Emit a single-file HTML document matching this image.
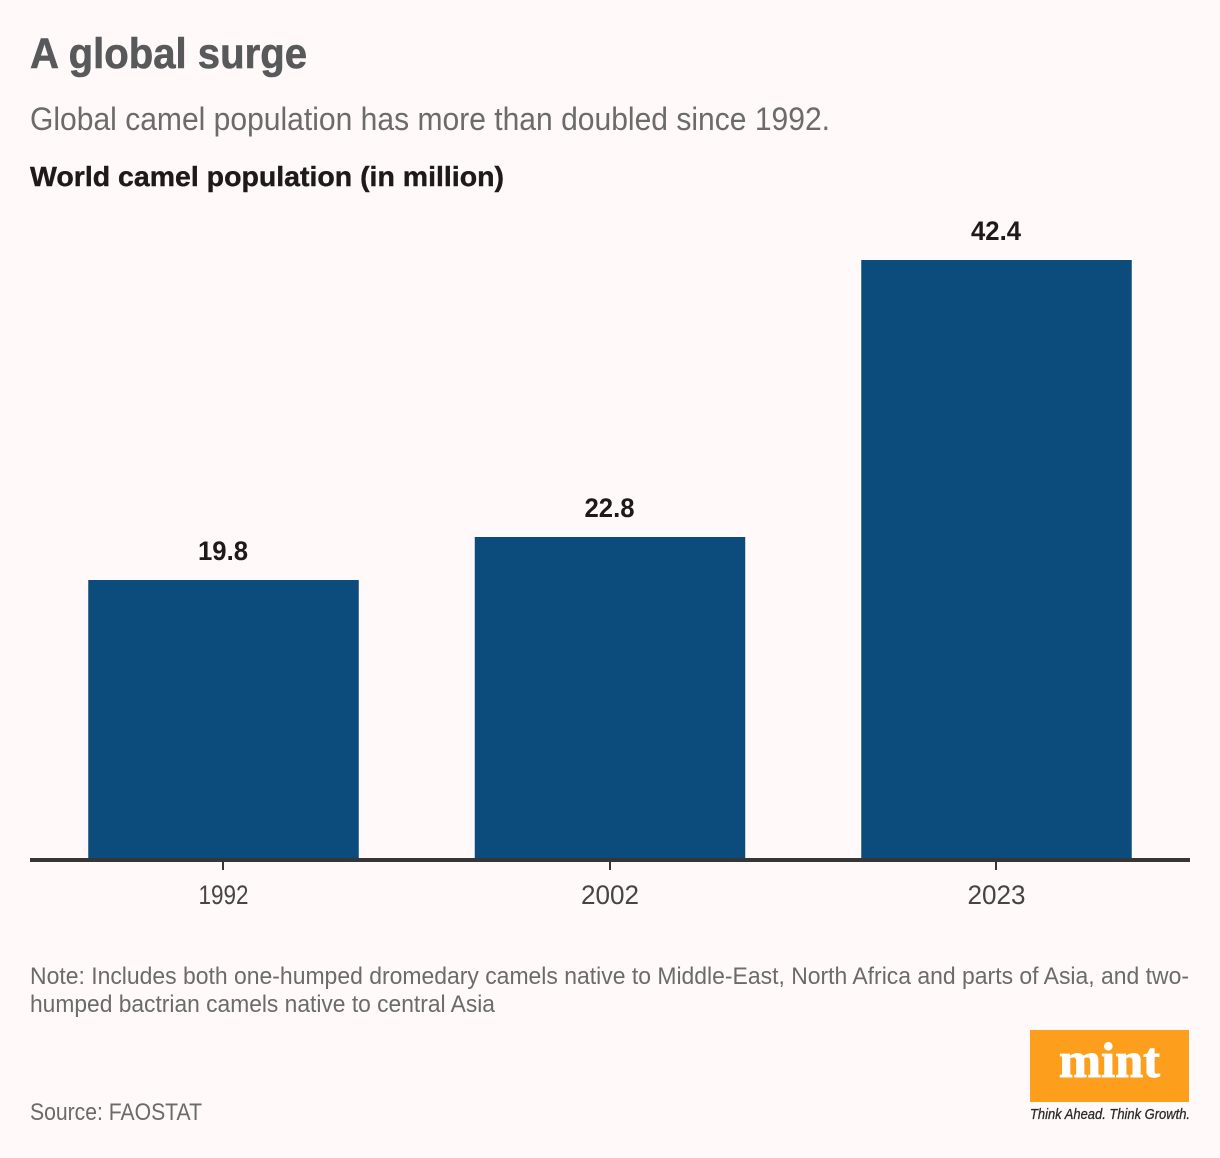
<!DOCTYPE html>
<html lang="en">
<head>
<meta charset="utf-8">
<title>A global surge</title>
<style>
html,body{margin:0;padding:0;background:#fff9f9;}
svg{display:block;font-family:"Liberation Sans",sans-serif;}
</style>
</head>
<body>
<svg id="chart" xmlns="http://www.w3.org/2000/svg" width="1220" height="1158" viewBox="0 0 1220 1158">
  <rect x="0" y="0" width="1220" height="1158" fill="#fff9f9"/>
  <text x="30" y="68" font-size="43" font-weight="700" fill="#58595b" stroke="#58595b" stroke-width="0.6" textLength="277" lengthAdjust="spacingAndGlyphs">A global surge</text>
  <text x="30" y="130" font-size="32" fill="#6b6b6b" textLength="800" lengthAdjust="spacingAndGlyphs">Global camel population has more than doubled since 1992.</text>
  <text x="30" y="186" font-size="28" font-weight="700" fill="#1f1a17" stroke="#1f1a17" stroke-width="0.4" textLength="474" lengthAdjust="spacingAndGlyphs">World camel population (in million)</text>
  <g id="bars"></g>
  <rect x="30" y="858" width="1160" height="4" fill="#363636"/>
  <g id="xaxis"></g>
  <text x="30" y="984" font-size="24" fill="#6b6b6b" textLength="1159" lengthAdjust="spacingAndGlyphs">Note: Includes both one-humped dromedary camels native to Middle-East, North Africa and parts of Asia, and two-</text>
  <text x="30" y="1012" font-size="24" fill="#6b6b6b" textLength="465" lengthAdjust="spacingAndGlyphs">humped bactrian camels native to central Asia</text>
  <text x="30" y="1120" font-size="24" fill="#6b6b6b" textLength="172" lengthAdjust="spacingAndGlyphs">Source: FAOSTAT</text>
  <g>
    <rect x="1030" y="1030" width="159" height="72" fill="#fd9e1d"/>
    <text x="1059" y="1077" font-family="'Liberation Serif',serif" font-size="50" font-weight="700" fill="#ffffff" stroke="#ffffff" stroke-width="1" textLength="101" lengthAdjust="spacingAndGlyphs">mint</text>
    <text x="1030" y="1119" font-size="15" font-style="italic" fill="#2b2b2b" stroke="#2b2b2b" stroke-width="0.3" textLength="160" lengthAdjust="spacingAndGlyphs">Think Ahead. Think Growth.</text>
  </g>
</svg>
<script>
const categories = ['1992', '2002', '2023'];
const seriesValues = [19.8, 22.8, 42.4];
const valueLabels = ['19.8', '22.8', '42.4'];

const NS = 'http://www.w3.org/2000/svg';
const baselineY = 860;
const pxPerUnit = 14.15;
const firstCenter = 223.5;
const bandStep = 386.5;
const barWidth = 270.5;
const xScale = function (i) { return firstCenter + i * bandStep; };
const yScale = function (v) { return Math.round(baselineY - v * pxPerUnit); };
const barsGroup = document.getElementById('bars');
const axisGroup = document.getElementById('xaxis');

categories.forEach(function (cat, i) {
  const cx = xScale(i);
  const top = yScale(seriesValues[i]);

  const bar = document.createElementNS(NS, 'rect');
  
  
  bar.setAttribute('x', cx - barWidth / 2);
  bar.setAttribute('y', top);
  bar.setAttribute('width', barWidth);
  bar.setAttribute('height', baselineY - top);
  bar.setAttribute('fill', '#0b4c7c');
  barsGroup.appendChild(bar);

  const val = document.createElementNS(NS, 'text');
  
  
  val.setAttribute('x', cx - 0.5);
  val.setAttribute('y', top - 20);
  val.setAttribute('text-anchor', 'middle');
  val.setAttribute('font-size', '27');
  val.setAttribute('font-weight', '700');
  val.setAttribute('fill', '#1f1a17');
  val.setAttribute('textLength', '50');
  val.setAttribute('lengthAdjust', 'spacingAndGlyphs');
  val.textContent = valueLabels[i];
  barsGroup.appendChild(val);

  const tick = document.createElementNS(NS, 'rect');
  
  
  tick.setAttribute('x', Math.floor(cx - 1));
  tick.setAttribute('y', 862);
  tick.setAttribute('width', 2);
  tick.setAttribute('height', 8);
  tick.setAttribute('fill', '#363636');
  axisGroup.appendChild(tick);

  const label = document.createElementNS(NS, 'text');
  
  
  label.setAttribute('x', cx);
  label.setAttribute('y', 904);
  label.setAttribute('text-anchor', 'middle');
  label.setAttribute('font-size', '27');
  label.setAttribute('fill', '#454545');
  label.setAttribute('textLength', i === 0 ? '50' : '58');
  label.setAttribute('lengthAdjust', 'spacingAndGlyphs');
  label.textContent = cat;
  axisGroup.appendChild(label);
});
</script>
</body>
</html>
